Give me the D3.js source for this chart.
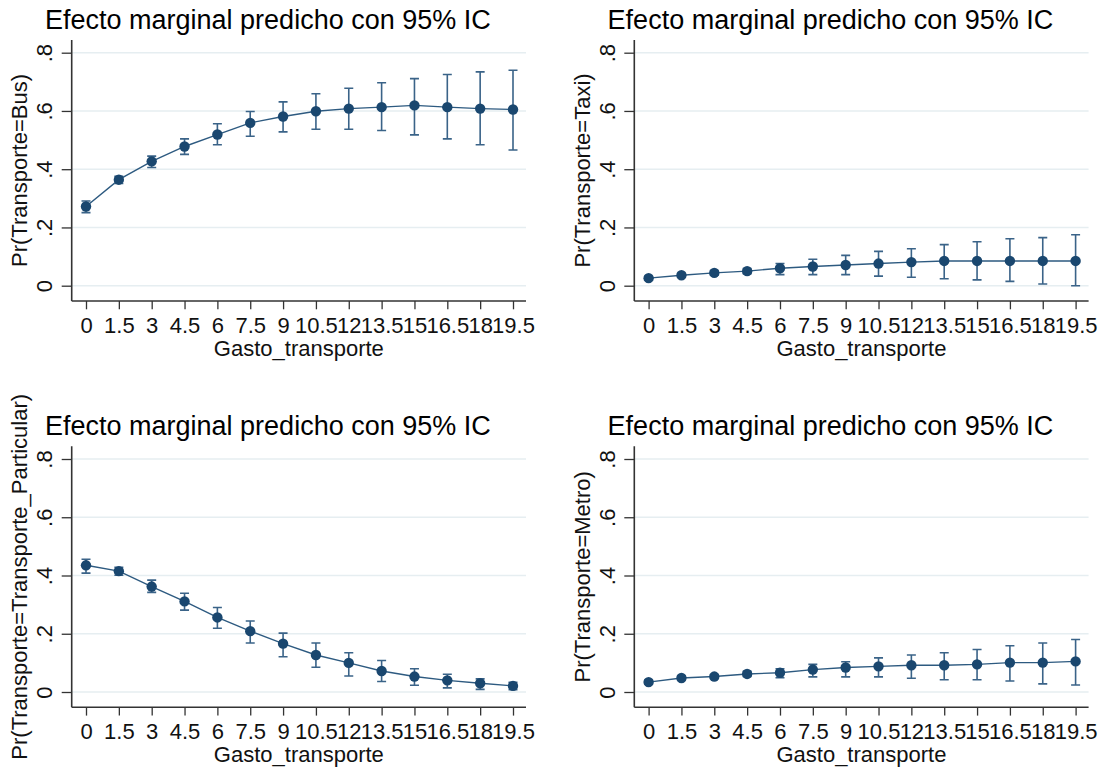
<!DOCTYPE html>
<html>
<head>
<meta charset="utf-8">
<script src="https://cdn.jsdelivr.net/npm/d3@7"></script>
<style>
  html, body { margin: 0; padding: 0; background: #ffffff; }
  svg { display: block; }
  text { font-family: "Liberation Sans", Arial, sans-serif; }
</style>
</head>
<body>
<svg id="chart" width="1102" height="767"></svg>
<script>
// ---------- DATA ----------
const gasto = [0, 1.5, 3, 4.5, 6, 7.5, 9, 10.5, 12, 13.5, 15, 16.5, 18, 19.5];
const xTickLabels = ["0", "1.5", "3", "4.5", "6", "7.5", "9", "10.5", "12", "13.5", "15", "16.5", "18", "19.5"];
const yTickValues = [0, 0.2, 0.4, 0.6, 0.8];
const yTickLabels = ["0", ".2", ".4", ".6", ".8"];

const busMargin = [0.272, 0.364, 0.427, 0.478, 0.519, 0.559, 0.581, 0.599, 0.608, 0.613, 0.619, 0.613, 0.608, 0.605];
const busLow    = [0.251, 0.351, 0.406, 0.451, 0.484, 0.513, 0.528, 0.537, 0.537, 0.533, 0.518, 0.504, 0.484, 0.466];
const busHigh   = [0.291, 0.376, 0.445, 0.504, 0.556, 0.598, 0.631, 0.659, 0.678, 0.697, 0.711, 0.725, 0.734, 0.740];

const taxiMargin = [0.026, 0.036, 0.044, 0.050, 0.060, 0.066, 0.071, 0.076, 0.081, 0.085, 0.085, 0.085, 0.085, 0.085];
const taxiLow    = [0.020, 0.029, 0.036, 0.041, 0.038, 0.038, 0.038, 0.033, 0.029, 0.024, 0.020, 0.015, 0.006, 0.000];
const taxiHigh   = [0.032, 0.043, 0.052, 0.059, 0.076, 0.091, 0.104, 0.118, 0.127, 0.141, 0.151, 0.161, 0.165, 0.175];

const partMargin = [0.435, 0.415, 0.362, 0.311, 0.256, 0.209, 0.166, 0.127, 0.100, 0.072, 0.053, 0.040, 0.030, 0.021];
const partLow    = [0.408, 0.401, 0.342, 0.281, 0.219, 0.168, 0.121, 0.085, 0.055, 0.036, 0.023, 0.014, 0.009, 0.008];
const partHigh   = [0.456, 0.428, 0.384, 0.339, 0.290, 0.244, 0.202, 0.168, 0.135, 0.108, 0.080, 0.061, 0.045, 0.033];

const metroMargin = [0.034, 0.048, 0.053, 0.062, 0.066, 0.077, 0.084, 0.088, 0.092, 0.092, 0.095, 0.101, 0.101, 0.105];
const metroLow    = [0.027, 0.041, 0.046, 0.053, 0.049, 0.052, 0.052, 0.052, 0.047, 0.042, 0.042, 0.038, 0.028, 0.024];
const metroHigh   = [0.041, 0.055, 0.060, 0.071, 0.080, 0.095, 0.104, 0.117, 0.127, 0.135, 0.146, 0.159, 0.168, 0.180];

const panelTitle = "Efecto marginal predicho con 95% IC";
const xTitle = "Gasto_transporte";
const yTitles = ["Pr(Transporte=Bus)", "Pr(Transporte=Taxi)", "Pr(Transporte=Transporte_Particular)", "Pr(Transporte=Metro)"];

const panels = [
  { yTitle: yTitles[0], m: busMargin,   lo: busLow,   hi: busHigh,   ox: 0,     oy: 0 },
  { yTitle: yTitles[1], m: taxiMargin,  lo: taxiLow,  hi: taxiHigh,  ox: 562.6, oy: 0 },
  { yTitle: yTitles[2], m: partMargin,  lo: partLow,  hi: partHigh,  ox: 0,     oy: 406.3 },
  { yTitle: yTitles[3], m: metroMargin, lo: metroLow, hi: metroHigh, ox: 562.6, oy: 406.3 }
];

// ---------- STYLE / LAYOUT ----------
const navy = "#1a476f";
const ciColor = "#3a6388";
const gridColor = "#e6eef1";
const axisColor = "#333333";

const L = {
  axisX: 71.7, axisTop: 40, axisBottom: 301, axisRight: 526,
  x0: 86, x1: 513, y0: 285.7, y1: 52.7,
  titleX: 45, titleY: 28.5
};

const svg = d3.select("#chart");

panels.forEach(p => {
  const g = svg.append("g").attr("transform", `translate(${p.ox},${p.oy})`);
  const x = d3.scaleLinear().domain([0, 19.5]).range([L.x0, L.x1]);
  const y = d3.scaleLinear().domain([0, 0.8]).range([L.y0, L.y1]);

  // gridlines
  g.selectAll("line.grid").data(yTickValues).enter().append("line")
    .attr("x1", L.axisX).attr("x2", L.axisRight)
    .attr("y1", d => y(d)).attr("y2", d => y(d))
    .attr("stroke", gridColor).attr("stroke-width", 1.5);

  // y axis
  const yAxis = d3.axisLeft(y).tickValues(yTickValues)
    .tickFormat((d, i) => yTickLabels[i]).tickSize(10).tickSizeOuter(0);
  const ya = g.append("g").attr("transform", `translate(${L.axisX},0)`).call(yAxis);
  ya.select(".domain").remove();
  ya.selectAll(".tick line").attr("stroke", axisColor).attr("stroke-width", 1.3);
  ya.selectAll(".tick text")
    .attr("x", 0).attr("dy", null)
    .attr("transform", "translate(-19.7,0) rotate(-90)")
    .attr("text-anchor", "middle")
    .attr("font-size", 22).attr("fill", "#111");
  g.append("line").attr("x1", L.axisX).attr("x2", L.axisX)
    .attr("y1", L.axisTop).attr("y2", L.axisBottom)
    .attr("stroke", axisColor).attr("stroke-width", 1.6);

  // x axis
  const xAxis = d3.axisBottom(x).tickValues(gasto)
    .tickFormat((d, i) => xTickLabels[i]).tickSize(8.3).tickSizeOuter(0);
  const xa = g.append("g").attr("transform", `translate(0,${L.axisBottom})`).call(xAxis);
  xa.select(".domain").remove();
  xa.selectAll(".tick line").attr("stroke", axisColor).attr("stroke-width", 1.3);
  xa.selectAll(".tick text").attr("y", 32).attr("dy", null)
    .attr("font-size", 22).attr("fill", "#111");
  g.append("line").attr("x1", L.axisX).attr("x2", L.axisRight)
    .attr("y1", L.axisBottom).attr("y2", L.axisBottom)
    .attr("stroke", axisColor).attr("stroke-width", 1.6);

  // titles
  g.append("text").attr("x", L.titleX).attr("y", L.titleY)
    .attr("font-size", 27).attr("fill", "#000").text(panelTitle);
  g.append("text").attr("x", (L.axisX + L.axisRight) / 2).attr("y", 356)
    .attr("text-anchor", "middle").attr("font-size", 22).attr("fill", "#111").text(xTitle);
  g.append("text")
    .attr("transform", `translate(27,${(L.axisTop + L.axisBottom) / 2}) rotate(-90)`)
    .attr("text-anchor", "middle").attr("font-size", 22).attr("fill", "#111").text(p.yTitle);

  // data
  const pts = gasto.map((v, i) => ({ x: v, m: p.m[i], lo: p.lo[i], hi: p.hi[i] }));

  // connecting line
  g.append("path").datum(pts)
    .attr("d", d3.line().x(d => x(d.x)).y(d => y(d.m)))
    .attr("fill", "none").attr("stroke", "#2d5a80").attr("stroke-width", 1.4);

  // CI caps
  const cap = 4.5;
  const ci = g.append("g").attr("stroke", ciColor).attr("stroke-width", 1.6).attr("fill", "none");
  ci.selectAll("path").data(pts).enter().append("path")
    .attr("d", d => {
      const cx = x(d.x), t = y(d.hi), b = y(d.lo);
      return `M${cx - cap},${t}H${cx + cap}M${cx},${t}V${b}M${cx - cap},${b}H${cx + cap}`;
    });

  // markers
  g.selectAll("circle.pt").data(pts).enter().append("circle")
    .attr("cx", d => x(d.x)).attr("cy", d => y(d.m)).attr("r", 5.2)
    .attr("fill", navy);
});
</script>
</body>
</html>
